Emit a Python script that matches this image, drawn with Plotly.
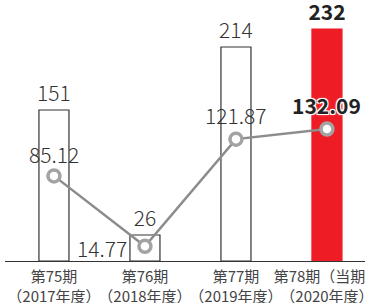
import plotly.graph_objects as go

categories = ["第75期<br>（2017年度）", "第76期<br>（2018年度）", "第77期<br>（2019年度）", "第78期（当期）<br>（2020年度）"]
bar_values = [151, 26, 214, 232]
line_values = [85.12, 14.77, 121.87, 132.09]
bar_labels = ["151", "26", "214", "<b>232</b>"]
line_labels = ["85.12", "14.77", "121.87", "132.09"]

x = list(range(len(categories)))
FONT = "Noto Sans CJK JP"

fig = go.Figure()
fig.add_trace(go.Bar(
    x=x, y=bar_values, width=0.33,
    marker=dict(color=["white", "white", "white", "#EE1C25"],
                line=dict(color=["#333333", "#333333", "#333333", "#EE1C25"], width=1.2)),
    text=bar_labels, textposition="outside", cliponaxis=False, constraintext="none",
    textfont=dict(family=FONT, size=21, color=["#333333", "#333333", "#333333", "#222222"], weight=300),
    showlegend=False, hoverinfo="skip",
))
fig.add_trace(go.Scatter(
    x=x, y=line_values, mode="lines+markers",
    line=dict(color="#8C8C8C", width=2.5),
    marker=dict(size=12, color="white", line=dict(color="#A3A3A3", width=3.5)),
    cliponaxis=False, showlegend=False, hoverinfo="skip",
))

# line value labels
shifts = [(0, 22, "center"), (-16, -2, "right"), (0, 24, "center"), (0, 24, "center")]
outline = "-1px -1px 0 #fff, 1px -1px 0 #fff, -1px 1px 0 #fff, 1px 1px 0 #fff, 0 0 3px #fff"
for i in range(len(x)):
    last = i == len(x) - 1
    xs, ys, xa = shifts[i]
    fig.add_annotation(
        x=x[i], y=line_values[i], xref="x", yref="y",
        text="<b>" + line_labels[i] + "</b>" if last else line_labels[i],
        showarrow=False, xanchor=xa, yanchor="middle", xshift=xs, yshift=ys,
        font=dict(family=FONT, size=21, color="#222222" if last else "#333333", weight=300,
                  shadow=outline if last else "none"),
    )

fig.update_layout(
    width=365, height=303,
    margin=dict(l=5, r=0, t=0, b=42, autoexpand=False),
    paper_bgcolor="white", plot_bgcolor="white",
    hovermode=False,
    xaxis=dict(range=[-0.538, 3.418], tickmode="array", tickvals=x, ticktext=categories,
               tickangle=0, automargin=False, ticklabeloverflow="allow", ticklabelstandoff=2,
               showgrid=False, zeroline=False, showline=True, linecolor="#333333", linewidth=1.2,
               ticks="", tickfont=dict(family=FONT, size=15, color="#444444")),
    yaxis=dict(range=[0, 261], visible=False, showgrid=False, zeroline=False, automargin=False),
)
fig.write_html("out.html", config={"displayModeBar": False, "staticPlot": True},
               post_script="document.body.style.margin='0';document.body.style.overflow='hidden';")
